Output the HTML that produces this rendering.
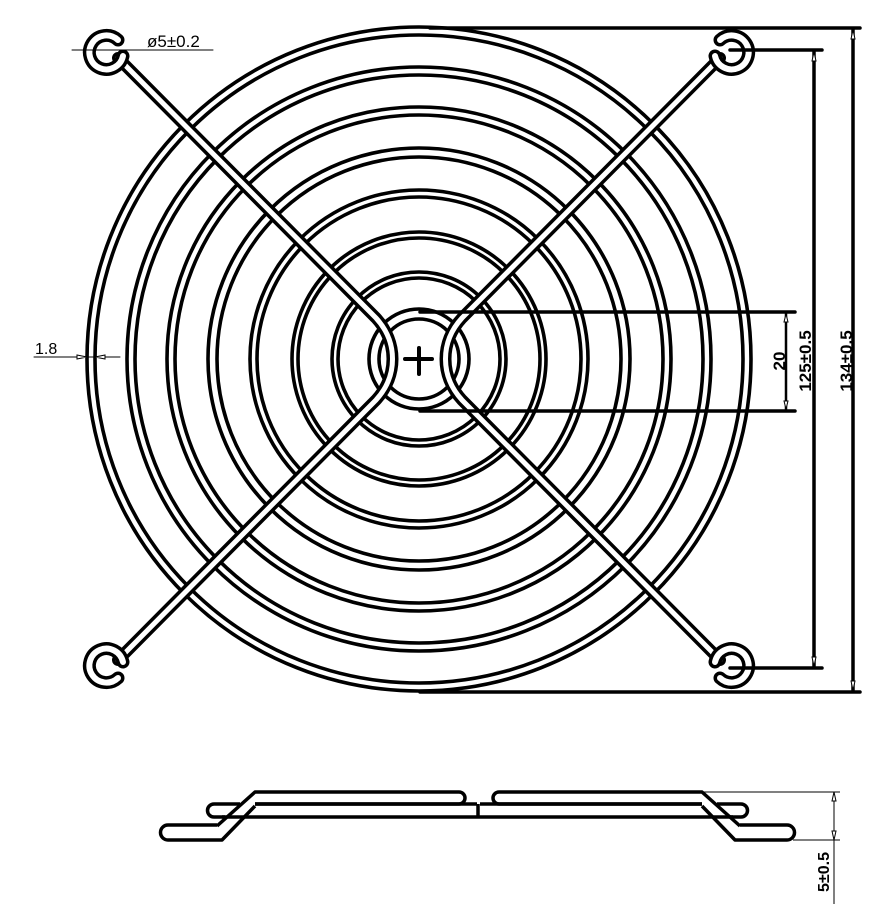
<!DOCTYPE html>
<html><head><style>
html,body{margin:0;padding:0;background:#fff;}
svg{display:block;}
text{font-family:"Liberation Sans",sans-serif;}
</style></head><body>
<svg width="880" height="904" viewBox="0 0 880 904" xmlns="http://www.w3.org/2000/svg">
<g fill="none" stroke-linecap="round">
<g stroke="#000" stroke-width="3.6">
<circle cx="419" cy="359" r="332"/><circle cx="419" cy="359" r="324"/>
<circle cx="419" cy="359" r="292"/><circle cx="419" cy="359" r="284"/>
<circle cx="419" cy="359" r="252"/><circle cx="419" cy="359" r="244"/>
<circle cx="419" cy="359" r="211"/><circle cx="419" cy="359" r="202"/>
<circle cx="419" cy="359" r="169"/><circle cx="419" cy="359" r="162"/>
<circle cx="419" cy="359" r="127"/><circle cx="419" cy="359" r="121"/>
<circle cx="419" cy="359" r="87"/><circle cx="419" cy="359" r="81"/>
<circle cx="419" cy="359" r="50"/><circle cx="419" cy="359" r="40"/>
</g>
<g>
<path d="M118,58 L376,318 C398,342 398,376 376,400 L118,660" stroke="#000" stroke-width="12"/>
<path d="M118,58 L376,318 C398,342 398,376 376,400 L118,660" stroke="#fff" stroke-width="5"/>
<path d="M720,58 L462,318 C440,342 440,376 462,400 L720,660" stroke="#000" stroke-width="12"/>
<path d="M720,58 L462,318 C440,342 440,376 462,400 L720,660" stroke="#fff" stroke-width="5"/>
</g>
<g>
<path d="M123,56 A17,17 0 1 1 118,40" stroke="#000" stroke-width="13"/>
<path d="M123,56 A17,17 0 1 1 118,40" stroke="#fff" stroke-width="6"/>
<path d="M715,56 A17,17 0 1 0 720,40" stroke="#000" stroke-width="13"/>
<path d="M715,56 A17,17 0 1 0 720,40" stroke="#fff" stroke-width="6"/>
<path d="M123,662 A17,17 0 1 0 118,678" stroke="#000" stroke-width="13"/>
<path d="M123,662 A17,17 0 1 0 118,678" stroke="#fff" stroke-width="6"/>
<path d="M715,662 A17,17 0 1 1 720,678" stroke="#000" stroke-width="13"/>
<path d="M715,662 A17,17 0 1 1 720,678" stroke="#fff" stroke-width="6"/>
</g>
<path d="M405,359 H432 M419,348 V374" stroke="#000" stroke-width="4"/>
<g stroke="#000">
<path d="M430,28 H860 M730,50 H822 M420,692 H860 M730,668 H822" stroke-width="3.5"/>
<path d="M853,30 V690 M814,52 V666" stroke-width="3.5"/>
<path d="M420,312 H795 M420,411 H795" stroke-width="3.5"/>
<path d="M786,314 V409" stroke-width="2.5"/>
<path d="M72,50 H213 M34,357 H120" stroke-width="1"/>
</g>
<g fill="#fff" stroke="#000" stroke-width="1">
<path d="M853,30 l-2,9 h4 z M853,690 l-2,-9 h4 z M814,52 l-2,9 h4 z M814,666 l-2,-9 h4 z M786,314 l-2,8 h4z M786,409 l-2,-8 h4z"/>
<path d="M87,357 l-10,-2 v4 z M95,357 l10,-2 v4 z"/>
</g>
</g>
<g fill="#000">
<text x="147" y="47" font-size="17">ø5±0.2</text>
<text x="35" y="354" font-size="16">1.8</text>
<text transform="translate(785,361) rotate(-90)" text-anchor="middle" font-weight="bold" font-size="17">20</text>
<text transform="translate(811,361) rotate(-90)" text-anchor="middle" font-weight="bold" font-size="17">125±0.5</text>
<text transform="translate(852,361) rotate(-90)" text-anchor="middle" font-weight="bold" font-size="17">134±0.5</text>
<text transform="translate(829,872) rotate(-90)" text-anchor="middle" font-weight="bold" font-size="16">5±0.5</text>
</g>
<g fill="none" stroke="#000" stroke-width="3.5" stroke-linejoin="round">
<path d="M222,817 H733"/>
<path d="M255,804 H477 M480,804 H702"/>
<path d="M478,804 V817"/>
<path d="M255,804 H459 a6,6 0 0 0 0,-12 H255 L217,826"/>
<path d="M702,804 H499 a6,6 0 0 1 0,-12 H702 L740,826"/>
<path d="M255,806 L222,840 H168 a7.5,7.5 0 0 1 0,-15 H217"/>
<path d="M702,806 L735,840 H787 a7.5,7.5 0 0 0 0,-15 H740"/>
<path d="M240,804 H214 a6.5,6.5 0 0 0 0,13 H225"/>
<path d="M717,804 H741 a6.5,6.5 0 0 1 0,13 H730"/>
</g>
<g stroke="#000" stroke-width="1" fill="none">
<path d="M702,792 H840 M793,840 H840"/>
<path d="M834,792 V904"/>
</g>
<path d="M834,792 l-2,9 h4z M834,840 l-2,-9 h4z" fill="#fff" stroke="#000" stroke-width="1"/>
</svg>
</body></html>
